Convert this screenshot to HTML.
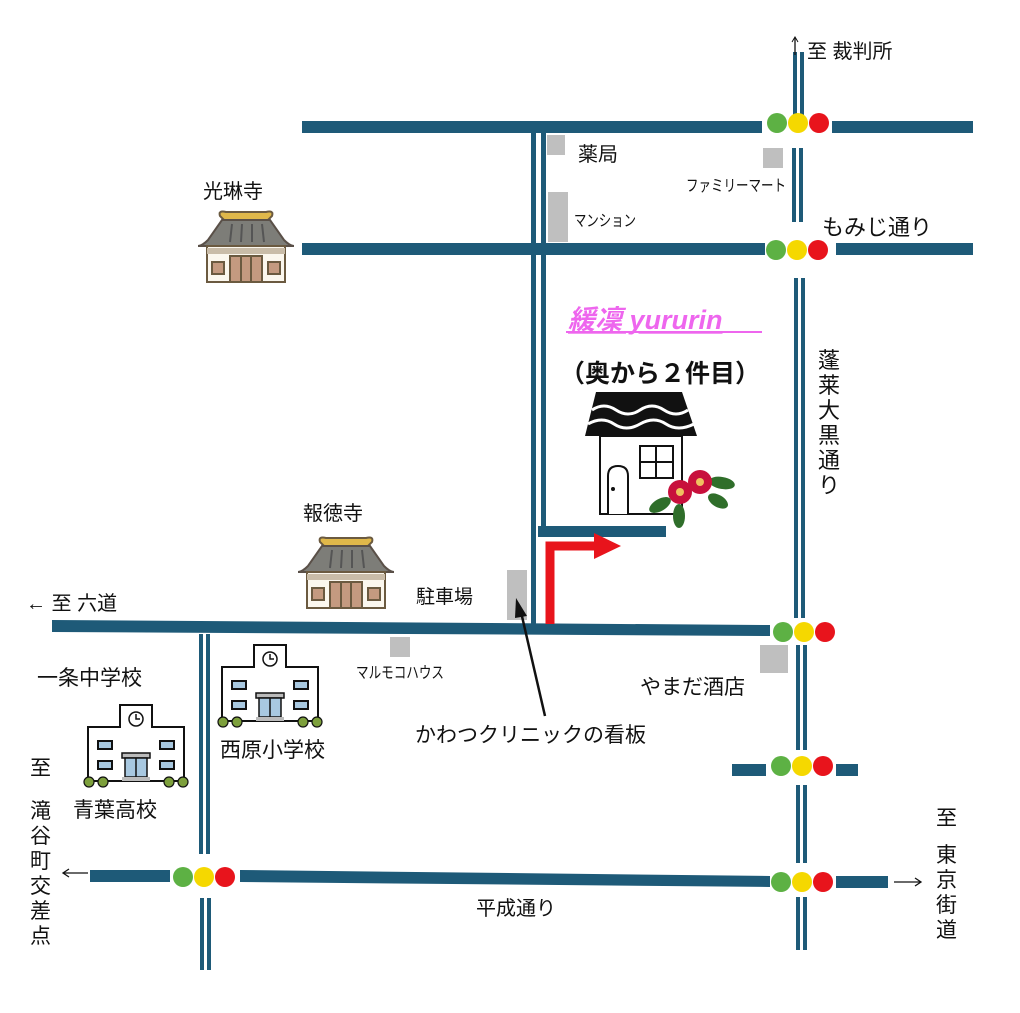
<!DOCTYPE html>
<html><head><meta charset="utf-8"><style>
html,body{margin:0;padding:0;background:#fff;}
svg{display:block;}
text{font-family:"Liberation Sans","Noto Sans CJK JP",sans-serif;fill:#111;}
</style></head><body>
<svg width="1020" height="1013" viewBox="0 0 1020 1013" xmlns="http://www.w3.org/2000/svg">
<defs>
<g id="temple">
  <path d="M22 6 Q20 0 28 2 L68 2 Q76 0 74 6 L70 10 L26 10 Z" fill="#e0b84a" stroke="#6b5a40" stroke-width="2"/>
  <path d="M24 10 L72 10 L86 30 Q92 36 96 36 L0 36 Q4 36 10 30 Z" fill="#7d7d78" stroke="#5a5048" stroke-width="2"/>
  <path d="M34 14 L32 32 M44 14 L43 32 M54 14 L54 32 M64 14 L66 32" stroke="#555" stroke-width="2"/>
  <rect x="9" y="36" width="78" height="36" fill="#fbf7ee" stroke="#6b5a40" stroke-width="2"/>
  <rect x="9" y="38" width="78" height="6" fill="#c9bca8"/>
  <rect x="32" y="46" width="32" height="26" fill="#c49a80" stroke="#6b5a40" stroke-width="2"/>
  <path d="M43 46 V72 M53 46 V72" stroke="#6b5a40" stroke-width="2"/>
  <rect x="14" y="52" width="12" height="12" fill="#c49a80" stroke="#6b5a40" stroke-width="2"/>
  <rect x="70" y="52" width="12" height="12" fill="#c49a80" stroke="#6b5a40" stroke-width="2"/>
</g>
<g id="school">
  <rect x="36" y="0" width="32" height="30" fill="#fff" stroke="#111" stroke-width="2"/>
  <rect x="4" y="22" width="96" height="54" fill="#fff" stroke="#111" stroke-width="2"/>
  <rect x="37" y="18" width="30" height="8" fill="#fff"/>
  <circle cx="52" cy="14" r="7" fill="#fff" stroke="#111" stroke-width="1.5"/>
  <path d="M52 9 V14 H56" stroke="#111" stroke-width="1.5" fill="none"/>
  <rect x="14" y="36" width="14" height="8" fill="#a8c8e0" stroke="#111" stroke-width="2"/>
  <rect x="76" y="36" width="14" height="8" fill="#a8c8e0" stroke="#111" stroke-width="2"/>
  <rect x="14" y="56" width="14" height="8" fill="#a8c8e0" stroke="#111" stroke-width="2"/>
  <rect x="76" y="56" width="14" height="8" fill="#a8c8e0" stroke="#111" stroke-width="2"/>
  <rect x="38" y="48" width="28" height="5" fill="#bbb" stroke="#111" stroke-width="1.5"/>
  <rect x="41" y="53" width="22" height="19" fill="#a8c8e0" stroke="#111" stroke-width="1.5"/>
  <path d="M52 53 V72" stroke="#111" stroke-width="1.5"/>
  <rect x="38" y="72" width="28" height="4" fill="#bbb"/>
  <g fill="#7da03c" stroke="#111" stroke-width="1.2">
    <circle cx="5" cy="77" r="5"/><circle cx="19" cy="77" r="5"/><circle cx="85" cy="77" r="5"/><circle cx="99" cy="77" r="5"/>
  </g>
</g>
<g id="lights">
  <circle cx="0" cy="0" r="10" fill="#5db144"/>
  <circle cx="21" cy="0" r="10" fill="#f5d800"/>
  <circle cx="42" cy="0" r="10" fill="#e8141c"/>
</g>
</defs>

<g fill="#1e5a78">
  <!-- horizontal roads -->
  <rect x="302" y="121" width="460" height="12"/>
  <rect x="832" y="121" width="141" height="12"/>
  <rect x="302" y="243" width="463" height="12"/>
  <rect x="836" y="243" width="137" height="12"/>
  <polygon points="52,620 770,625 770,636 52,632"/>
  <rect x="538" y="526" width="128" height="11"/>
  <rect x="732" y="764" width="34" height="12"/>
  <rect x="836" y="764" width="22" height="12"/>
  <rect x="90" y="870" width="80" height="12"/>
  <polygon points="240,870 770,876 770,887 240,882"/>
  <rect x="836" y="876" width="52" height="12"/>
  <!-- verticals main -->
  <rect x="531" y="128" width="5" height="498"/>
  <rect x="541" y="128" width="5" height="398"/>
  <!-- right verticals -->
  <rect x="793" y="52" width="4" height="68"/><rect x="800" y="52" width="4" height="68"/>
  <rect x="792" y="148" width="4" height="74"/><rect x="799" y="148" width="4" height="74"/>
  <rect x="794" y="278" width="4" height="340"/><rect x="801" y="278" width="4" height="340"/>
  <rect x="796" y="645" width="4" height="105"/><rect x="803" y="645" width="4" height="105"/>
  <rect x="796" y="785" width="4" height="78"/><rect x="803" y="785" width="4" height="78"/>
  <rect x="796" y="897" width="4" height="53"/><rect x="803" y="897" width="4" height="53"/>
  <!-- left vertical -->
  <rect x="199" y="634" width="4" height="220"/><rect x="206" y="634" width="4" height="220"/>
  <rect x="200" y="898" width="4" height="72"/><rect x="207" y="898" width="4" height="72"/>
</g>

<use href="#lights" x="777" y="123"/>
<use href="#lights" x="776" y="250"/>
<use href="#lights" x="783" y="632"/>
<use href="#lights" x="781" y="766"/>
<use href="#lights" x="183" y="877"/>
<use href="#lights" x="781" y="882"/>

<g fill="#bfbfbf">
  <rect x="547" y="135" width="18" height="20"/>
  <rect x="548" y="192" width="20" height="50"/>
  <rect x="763" y="148" width="20" height="20"/>
  <rect x="390" y="637" width="20" height="20"/>
  <rect x="760" y="645" width="28" height="28"/>
  <rect x="507" y="570" width="20" height="50"/>
</g>

<use href="#temple" x="198" y="210"/>
<use href="#temple" x="298" y="536"/>
<use href="#school" x="84" y="705"/>
<use href="#school" x="218" y="645"/>

<!-- house -->
<path d="M596 392 L682 392 L697 436 L585 436 Z" fill="#111"/>
<path d="M592 410 q12 -8 24 0 t24 0 t24 0 t24 0 M588 424 q14 -8 26 0 t26 0 t26 0 t28 0" stroke="#fff" stroke-width="3" fill="none"/>
<rect x="600" y="436" width="82" height="78" fill="#fff" stroke="#111" stroke-width="2"/>
<rect x="640" y="446" width="33" height="32" fill="#fff" stroke="#111" stroke-width="2"/>
<path d="M656 446 V478 M640 462 H673" stroke="#111" stroke-width="2"/>
<path d="M608 514 V476 Q608 466 618 466 Q628 466 628 476 V514" fill="#fff" stroke="#111" stroke-width="2"/>
<circle cx="613" cy="489" r="2" fill="#111"/>
<g>
  <ellipse cx="660" cy="505" rx="12" ry="6" fill="#2f6e2a" transform="rotate(-30 660 505)"/>
  <ellipse cx="679" cy="516" rx="6" ry="12" fill="#2f6e2a"/>
  <ellipse cx="722" cy="483" rx="13" ry="6" fill="#2f6e2a" transform="rotate(10 722 483)"/>
  <ellipse cx="718" cy="501" rx="11" ry="6" fill="#2f6e2a" transform="rotate(30 718 501)"/>
  <circle cx="680" cy="492" r="12" fill="#c8103c"/>
  <circle cx="700" cy="482" r="12" fill="#c8103c"/>
  <circle cx="680" cy="492" r="4" fill="#f0c060"/>
  <circle cx="700" cy="482" r="4" fill="#f0c060"/>
</g>

<!-- red arrow -->
<path d="M550 624 V546 H596" stroke="#e8141c" stroke-width="9" fill="none"/>
<polygon points="594,533 621,546 594,559" fill="#e8141c"/>

<!-- black arrow -->
<line x1="545" y1="716" x2="521" y2="612" stroke="#111" stroke-width="2.5"/>
<polygon points="516,598 527,616 515,618" fill="#111"/>

<!-- small arrows -->
<path d="M795 55 V38" stroke="#111" stroke-width="1.3"/>
<path d="M792 42 L795 37 L798 42" stroke="#111" fill="none"/>

<text x="807" y="58" font-size="20">至  裁判所</text>
<text x="578" y="161" font-size="20">薬局</text>
<text x="686" y="191" font-size="16" textLength="100" lengthAdjust="spacingAndGlyphs">ファミリーマート</text>
<text x="574" y="226" font-size="16" textLength="62" lengthAdjust="spacingAndGlyphs">マンション</text>
<text x="822" y="235" font-size="22">もみじ通り</text>
<text x="203" y="198" font-size="20">光琳寺</text>
<text x="568" y="329" font-size="27" font-style="italic" font-weight="bold" fill="#ee66ee" style="fill:#ee66ee" text-decoration="underline">緩凜 yururin</text>
<line x1="566" y1="332" x2="762" y2="332" stroke="#ee66ee" stroke-width="2"/>
<text x="560" y="382" font-size="25" font-weight="bold">（奥から２件目）</text>
<g font-size="22">
  <text x="818" y="368">蓬</text><text x="818" y="393">莱</text><text x="818" y="418">大</text><text x="818" y="443">黒</text><text x="818" y="468">通</text><text x="818" y="493">り</text>
</g>
<text x="303" y="520" font-size="20">報徳寺</text>
<text x="416" y="603" font-size="19">駐車場</text>
<text x="26" y="610" font-size="20">←  至  六道</text>
<text x="356" y="678" font-size="16" textLength="88" lengthAdjust="spacingAndGlyphs">マルモコハウス</text>
<text x="37" y="685" font-size="21">一条中学校</text>
<text x="640" y="694" font-size="21">やまだ酒店</text>
<text x="415" y="742" font-size="21">かわつクリニックの看板</text>
<text x="220" y="757" font-size="21">西原小学校</text>
<text x="73" y="817" font-size="21">青葉高校</text>
<text x="476" y="915" font-size="20">平成通り</text>
<g font-size="21">
  <text x="30" y="775">至</text>
  <text x="30" y="818">滝</text><text x="30" y="843">谷</text><text x="30" y="868">町</text><text x="30" y="893">交</text><text x="30" y="918">差</text><text x="30" y="943">点</text>
  <text x="936" y="825">至</text>
  <text x="936" y="862">東</text><text x="936" y="887">京</text><text x="936" y="912">街</text><text x="936" y="937">道</text>
</g>
<path d="M88 873 H64 M69 869 L63 873 L69 877" stroke="#111" stroke-width="1.3" fill="none"/>
<path d="M894 882 H920 M915 878 L921 882 L915 886" stroke="#111" stroke-width="1.3" fill="none"/>
</svg>
</body></html>
